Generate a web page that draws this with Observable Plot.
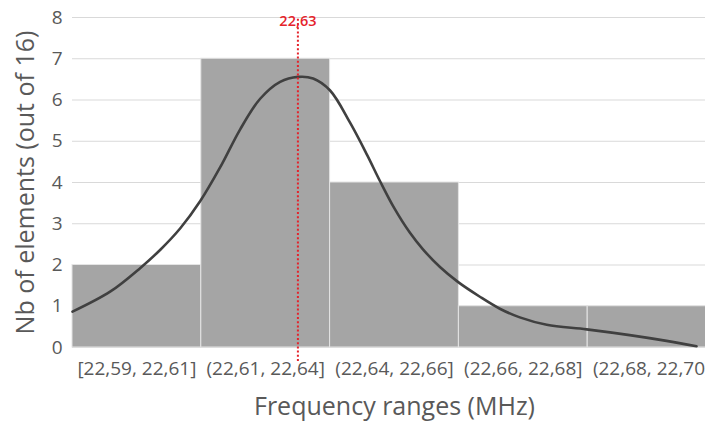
<!DOCTYPE html>
<html>
<head>
<meta charset="utf-8">
<script src="https://cdn.jsdelivr.net/npm/d3@7"></script>
<script src="https://cdn.jsdelivr.net/npm/@observablehq/plot@0.6"></script>
<style>
  html, body { margin: 0; padding: 0; background: #fff; overflow: hidden; }
  #chart svg { display: block; overflow: hidden; }
</style>
</head>
<body>
<div id="chart"></div>
<script>
// Histogram categories (frequency ranges, MHz) and counts
const categories = ["[22,59, 22,61]", "(22,61, 22,64]", "(22,64, 22,66]", "(22,66, 22,68]", "(22,68, 22,70]"];
const counts = [2, 7, 4, 1, 1];

// Fitted density curve (x in bin units, y in count units)
const curveX = [0.000, 0.295, 0.527, 0.682, 0.837, 0.992, 1.147, 1.302, 1.457, 1.612, 1.752, 1.868, 2.000, 2.155, 2.287, 2.388, 2.496, 2.620, 2.721, 2.853, 2.992, 3.163, 3.318, 3.473, 3.682, 3.992, 4.326, 4.612, 4.845];
const curveY = [0.87, 1.36, 1.93, 2.37, 2.89, 3.55, 4.37, 5.29, 6.03, 6.44, 6.56, 6.52, 6.23, 5.45, 4.67, 4.03, 3.39, 2.78, 2.38, 1.95, 1.59, 1.23, 0.94, 0.73, 0.55, 0.44, 0.30, 0.16, 0.03];

// Mean marker
const meanLabel = "22,63";
const meanPos = 1.75;

// Axis
const yTicks = [0, 1, 2, 3, 4, 5, 6, 7, 8];
const yTitle = "Nb of elements (out of 16)";
const xTitle = "Frequency ranges (MHz)";

const bars = categories.map((c, i) => ({label: c, x1: i, x2: i + 1, count: counts[i]}));
const curve = curveX.map((x, i) => ({x, y: curveY[i]}));

const red = "#e5232b";

const chart = Plot.plot({
  width: 705,
  height: 425,
  marginTop: 17,
  marginBottom: 78,
  marginLeft: 72,
  marginRight: -11,
  style: {fontFamily: "'Open Sans', sans-serif", color: "#595959", background: "#fff"},
  x: {domain: [0, 5]},
  y: {domain: [0, 8]},
  marks: [
    Plot.ruleY(yTicks, {stroke: "#d9d9d9", strokeWidth: 1}),
    Plot.rectY(bars, {x1: "x1", x2: "x2", y1: 0, y2: "count", fill: "#a5a5a5", stroke: "#e4e4e4", strokeWidth: 1}),
    Plot.line(curve, {x: "x", y: "y", curve: "catmull-rom", stroke: "#404040", strokeWidth: 2.6}),
    Plot.ruleX([meanPos], {y1: 0, y2: 8, insetTop: 14, stroke: red, strokeWidth: 2, strokeDasharray: "2,2.2"}),
    Plot.text([meanLabel], {x: meanPos, y: 8, text: d => d, fill: red, fontSize: 14.5, fontWeight: 600, dy: 4}),
    Plot.axisY({ticks: yTicks, tickSize: 0, tickPadding: 10, fontSize: 19, label: null}),
    Plot.axisX({ticks: categories.map((_, i) => i + 0.5), tickFormat: v => categories[Math.floor(v)], tickSize: 0, tickPadding: 14, fontSize: 19, label: null}),
    Plot.text([yTitle], {frameAnchor: "left", textAnchor: "middle", rotate: -90, dx: -47, fontSize: 25, fill: "#595959", text: d => d}),
    Plot.text([xTitle], {frameAnchor: "bottom", textAnchor: "middle", dy: 67, fontSize: 25, fill: "#595959", text: d => d})
  ]
});
document.getElementById("chart").appendChild(chart);
</script>
</body>
</html>
